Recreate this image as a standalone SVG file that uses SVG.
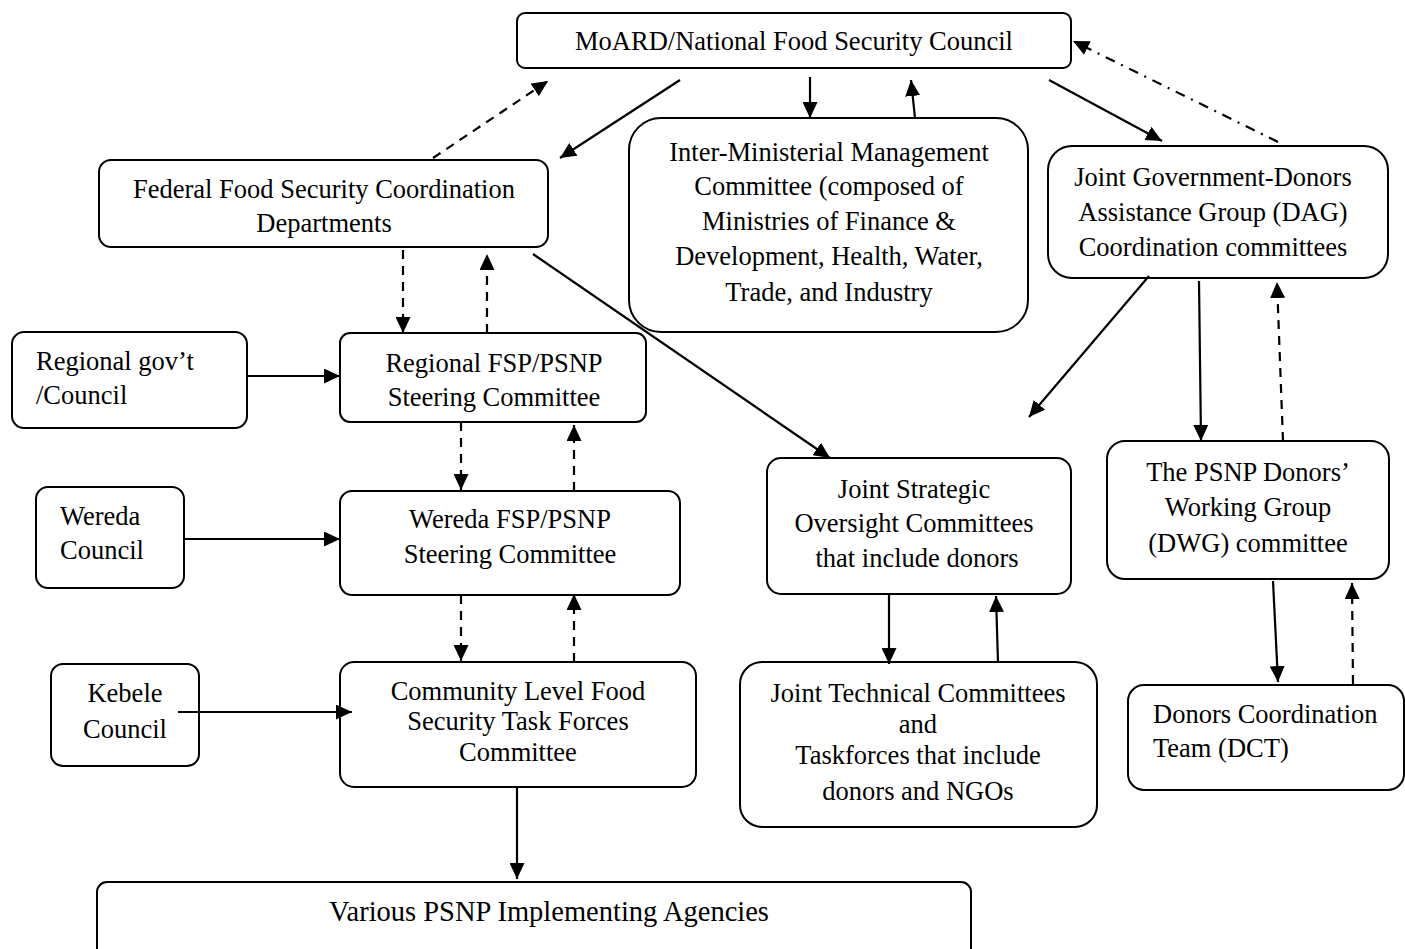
<svg xmlns="http://www.w3.org/2000/svg" width="1405" height="949" viewBox="0 0 1405 949">
<style>
.box{fill:#fff;stroke:#000;stroke-width:2}
text{font-family:"Liberation Serif","Times New Roman",serif;font-size:26.5px;fill:#000}
.c{text-anchor:middle}
.ln{fill:none;stroke:#000;stroke-width:2.2}
.dash{stroke-dasharray:9 7}
.dd{stroke-dasharray:10 7 2 7}
</style>
<defs>
<marker id="ah" markerUnits="userSpaceOnUse" markerWidth="17" markerHeight="15" refX="16" refY="7.5" orient="auto">
<path d="M0,0 L16,7.5 L0,15 z" fill="#000"/>
</marker>
</defs>
<rect width="1405" height="949" fill="#fff"/>
<g id="moard">
<rect class="box" x="517" y="13" width="554" height="55" rx="8"/>
<text class="c" x="794" y="50">MoARD/National Food Security Council</text>
</g>
<g id="federal">
<rect class="box" x="99" y="160" width="449" height="87" rx="12"/>
<text class="c" x="324" y="198">Federal Food Security Coordination</text>
<text class="c" x="324" y="232">Departments</text>
</g>
<g id="interministerial">
<rect class="box" x="629" y="118" width="399" height="214" rx="32"/>
<text class="c" x="829" y="161">Inter-Ministerial Management</text>
<text class="c" x="829" y="195">Committee (composed of</text>
<text class="c" x="829" y="230">Ministries of Finance &amp;</text>
<text class="c" x="829" y="265">Development, Health, Water,</text>
<text class="c" x="829" y="301">Trade, and Industry</text>
</g>
<g id="dag">
<rect class="box" x="1048" y="146" width="340" height="132" rx="24"/>
<text class="c" x="1213" y="186">Joint Government-Donors</text>
<text class="c" x="1213" y="221">Assistance Group (DAG)</text>
<text class="c" x="1213" y="256">Coordination committees</text>
</g>
<g id="regional-gov">
<rect class="box" x="12" y="332" width="235" height="96" rx="12"/>
<text x="36" y="370">Regional gov’t</text>
<text x="36" y="404">/Council</text>
</g>
<g id="regional-fsp">
<rect class="box" x="340" y="333" width="306" height="89" rx="10"/>
<text class="c" x="494" y="372">Regional FSP/PSNP</text>
<text class="c" x="494" y="406">Steering Committee</text>
</g>
<g id="wereda-council">
<rect class="box" x="36" y="487" width="148" height="101" rx="12"/>
<text x="60" y="525">Wereda</text>
<text x="60" y="559">Council</text>
</g>
<g id="wereda-fsp">
<rect class="box" x="340" y="491" width="340" height="104" rx="12"/>
<text class="c" x="510" y="528">Wereda FSP/PSNP</text>
<text class="c" x="510" y="563">Steering Committee</text>
</g>
<g id="kebele">
<rect class="box" x="51" y="664" width="148" height="102" rx="12"/>
<text class="c" x="125" y="702">Kebele</text>
<text class="c" x="125" y="738">Council</text>
</g>
<g id="community">
<rect class="box" x="340" y="662" width="356" height="125" rx="14"/>
<text class="c" x="518" y="700">Community Level Food</text>
<text class="c" x="518" y="730">Security Task Forces</text>
<text class="c" x="518" y="761">Committee</text>
</g>
<g id="joint-strategic">
<rect class="box" x="767" y="458" width="304" height="136" rx="14"/>
<text class="c" x="914" y="498">Joint Strategic</text>
<text class="c" x="914" y="532">Oversight Committees</text>
<text class="c" x="917" y="567">that include donors</text>
</g>
<g id="joint-technical">
<rect class="box" x="740" y="662" width="357" height="165" rx="22"/>
<text class="c" x="918" y="702">Joint Technical Committees</text>
<text class="c" x="918" y="733">and</text>
<text class="c" x="918" y="764">Taskforces that include</text>
<text class="c" x="918" y="800">donors and NGOs</text>
</g>
<g id="dwg">
<rect class="box" x="1107" y="441" width="282" height="138" rx="18"/>
<text class="c" x="1248" y="481">The PSNP Donors’</text>
<text class="c" x="1248" y="516">Working Group</text>
<text class="c" x="1248" y="552">(DWG) committee</text>
</g>
<g id="dct">
<rect class="box" x="1128" y="685" width="276" height="105" rx="16"/>
<text x="1153" y="723">Donors Coordination</text>
<text x="1153" y="757">Team (DCT)</text>
</g>
<g id="various">
<rect class="box" x="97" y="882" width="874" height="80" rx="10"/>
<text class="c" x="549" y="921" style="font-size:28.5px">Various PSNP Implementing Agencies</text>
</g>
<g id="connectors">
<line class="ln dash" x1="433" y1="158" x2="548" y2="81" marker-end="url(#ah)"/>
<line class="ln" x1="680" y1="80" x2="560" y2="158" marker-end="url(#ah)"/>
<line class="ln" x1="810" y1="77" x2="810" y2="118" marker-end="url(#ah)"/>
<line class="ln" x1="915" y1="118" x2="911" y2="80" marker-end="url(#ah)"/>
<line class="ln" x1="1049" y1="80" x2="1162" y2="141" marker-end="url(#ah)"/>
<line class="ln dd" x1="1278" y1="142" x2="1073" y2="41" marker-end="url(#ah)"/>
<line class="ln dash" x1="403" y1="250" x2="403" y2="333" marker-end="url(#ah)"/>
<line class="ln dash" x1="487" y1="333" x2="487" y2="254" marker-end="url(#ah)"/>
<line class="ln" x1="533" y1="254" x2="830" y2="458" marker-end="url(#ah)"/>
<line class="ln" x1="247" y1="376" x2="340" y2="376" marker-end="url(#ah)"/>
<line class="ln dash" x1="461" y1="422" x2="461" y2="490" marker-end="url(#ah)"/>
<line class="ln dash" x1="574" y1="491" x2="574" y2="425" marker-end="url(#ah)"/>
<line class="ln" x1="184" y1="539" x2="340" y2="539" marker-end="url(#ah)"/>
<line class="ln dash" x1="461" y1="595" x2="461" y2="661" marker-end="url(#ah)"/>
<line class="ln dash" x1="574" y1="662" x2="574" y2="594" marker-end="url(#ah)"/>
<line class="ln" x1="178" y1="712" x2="352" y2="712" marker-end="url(#ah)"/>
<line class="ln" x1="517" y1="788" x2="517" y2="879" marker-end="url(#ah)"/>
<line class="ln" x1="1149" y1="276" x2="1029" y2="417" marker-end="url(#ah)"/>
<line class="ln" x1="1199" y1="281" x2="1201" y2="441" marker-end="url(#ah)"/>
<line class="ln dash" x1="1283" y1="441" x2="1277" y2="282" marker-end="url(#ah)"/>
<line class="ln" x1="889" y1="595" x2="889" y2="664" marker-end="url(#ah)"/>
<line class="ln" x1="998" y1="663" x2="996" y2="596" marker-end="url(#ah)"/>
<line class="ln" x1="1273" y1="581" x2="1278" y2="682" marker-end="url(#ah)"/>
<line class="ln dash" x1="1353" y1="684" x2="1352" y2="583" marker-end="url(#ah)"/>
</g>
</svg>
